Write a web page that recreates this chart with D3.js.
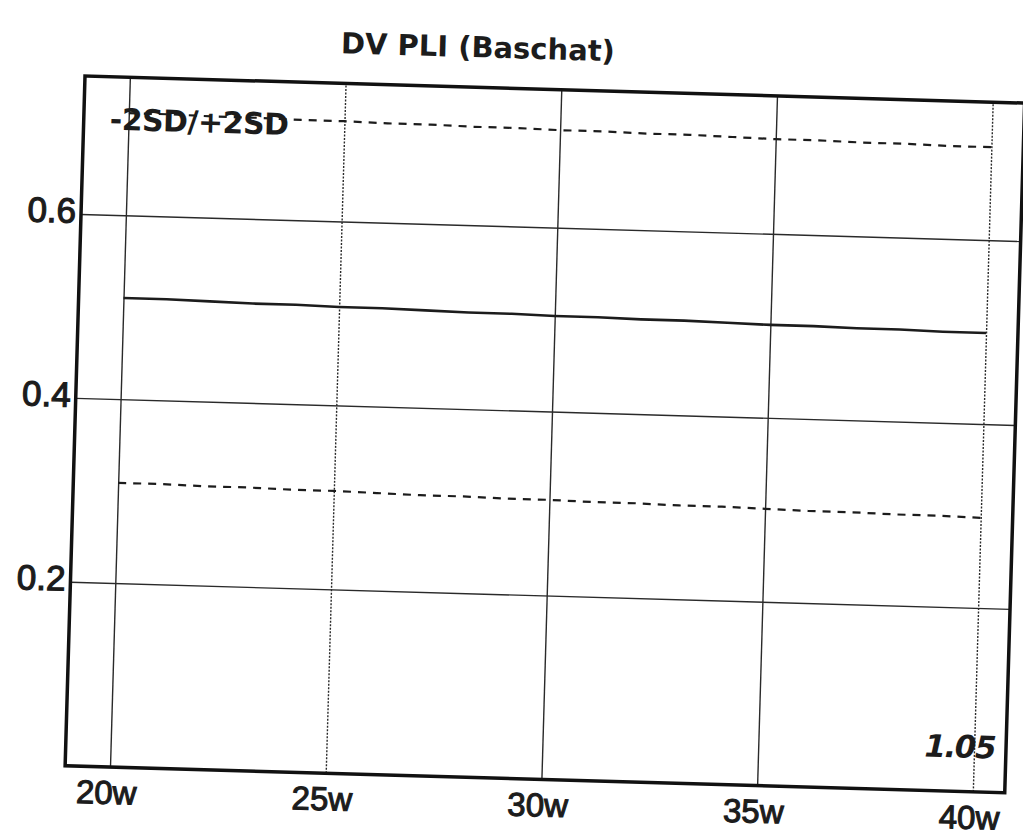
<!DOCTYPE html>
<html>
<head>
<meta charset="utf-8">
<script src="https://cdn.jsdelivr.net/npm/d3@7"></script>
<style>
  html, body { margin: 0; padding: 0; background: #fff; }
  svg { display: block; }
</style>
</head>
<body>
<div id="chart"></div>
<script>
// ---- data ----
const title = "DV PLI (Baschat)";
const weeks = [20,21,22,23,24,25,26,27,28,29,30,31,32,33,34,35,36,37,38,39,40];
const meanValues  = [0.510,0.510,0.509,0.508,0.508,0.507,0.507,0.506,0.505,0.505,0.504,0.504,0.503,0.503,0.502,0.501,0.501,0.500,0.500,0.499,0.499];
const upperValues = [0.711,0.711,0.710,0.710,0.709,0.709,0.708,0.708,0.707,0.707,0.706,0.706,0.705,0.705,0.704,0.703,0.703,0.702,0.702,0.701,0.701];
const lowerValues = [0.309,0.309,0.308,0.308,0.307,0.307,0.306,0.305,0.305,0.304,0.304,0.303,0.303,0.302,0.302,0.301,0.300,0.300,0.299,0.299,0.298];
const xTicks = [20,25,30,35,40];
const xTickLabels = ["20w","25w","30w","35w","40w"];
const yTicks = [0.2,0.4,0.6];
const yTickLabels = ["0.2","0.4","0.6"];
const legendText = "-2SD/+2SD";
const valueText = "1.05";

// ---- layout ----
const W = 1023, H = 838;
const pw = 940, ph = 690;
const ink = "#1c1c1c";

const svg = d3.select("#chart").append("svg").attr("width", W).attr("height", H);
svg.append("rect").attr("width", W).attr("height", H).attr("fill", "#fff");

const g = svg.append("g").attr("transform", "translate(85,76) rotate(1.65)");

const x = d3.scaleLinear().domain([18.96, 40.74]).range([0, pw]);
const y = d3.scaleLinear().domain([0, 0.75]).range([ph, 0]);

// gridlines
const xAxis = d3.axisBottom(x).tickValues(xTicks).tickSize(-ph).tickFormat("");
const gx = g.append("g").attr("transform", `translate(0,${ph})`).call(xAxis);
gx.select(".domain").remove();
gx.selectAll(".tick line").attr("stroke", "#2a2a2a").attr("stroke-width", 1.4)
  .attr("stroke-dasharray", d => (d === 25 || d === 40) ? "2,1.5" : null);

const yAxis = d3.axisLeft(y).tickValues(yTicks).tickSize(-pw).tickFormat("");
const gy = g.append("g").call(yAxis);
gy.select(".domain").remove();
gy.selectAll(".tick line").attr("stroke", "#2a2a2a").attr("stroke-width", 1.4);

// tick labels
g.selectAll(".ylab").data(yTicks).enter().append("text")
  .attr("class", "ylab")
  .attr("x", -5).attr("y", d => y(d) + 9)
  .attr("text-anchor", "end")
  .attr("font-family", "Liberation Sans, Arial, sans-serif")
  .attr("font-size", 35)
  .attr("fill", ink).attr("stroke", ink).attr("stroke-width", 1.2)
  .text((d, i) => yTickLabels[i]);

g.selectAll(".xlab").data(xTicks).enter().append("text")
  .attr("class", "xlab")
  .attr("x", d => x(d) - 3).attr("y", ph + 37)
  .attr("text-anchor", "middle")
  .attr("font-family", "Liberation Sans, Arial, sans-serif")
  .attr("font-size", 33)
  .attr("fill", ink).attr("stroke", ink).attr("stroke-width", 1.1)
  .text((d, i) => xTickLabels[i]);

// lines
const line = d3.line().x((d, i) => x(weeks[i])).y(d => y(d));

g.append("path").datum(upperValues).attr("d", line)
  .attr("fill", "none").attr("stroke", ink).attr("stroke-width", 2.2)
  .attr("stroke-dasharray", "8,7");
g.append("path").datum(lowerValues).attr("d", line)
  .attr("fill", "none").attr("stroke", ink).attr("stroke-width", 2.2)
  .attr("stroke-dasharray", "8,7");
g.append("path").datum(meanValues).attr("d", line)
  .attr("fill", "none").attr("stroke", ink).attr("stroke-width", 2.6);

// frame
g.append("rect").attr("x", 0).attr("y", 0).attr("width", pw).attr("height", ph)
  .attr("fill", "none").attr("stroke", "#111").attr("stroke-width", 3.5);

// title
g.append("text").attr("x", 392).attr("y", -30)
  .attr("text-anchor", "middle")
  .attr("font-family", "DejaVu Sans, Verdana, sans-serif")
  .attr("font-weight", "bold").attr("font-size", 29)
  .attr("fill", ink)
  .text(title);

// legend text
g.append("text").attr("x", 26).attr("y", 53)
  .attr("font-family", "DejaVu Sans, Verdana, sans-serif")
  .attr("font-weight", "bold").attr("font-size", 30)
  .attr("letter-spacing", -0.5)
  .attr("fill", ink)
  .text(legendText);

// value text
g.append("text").attr("x", 929).attr("y", 656)
  .attr("text-anchor", "end")
  .attr("font-family", "DejaVu Sans, Verdana, sans-serif")
  .attr("font-weight", "bold").attr("font-style", "italic").attr("font-size", 31)
  .attr("letter-spacing", -1.5)
  .attr("fill", ink)
  .text(valueText);
</script>
</body>
</html>
